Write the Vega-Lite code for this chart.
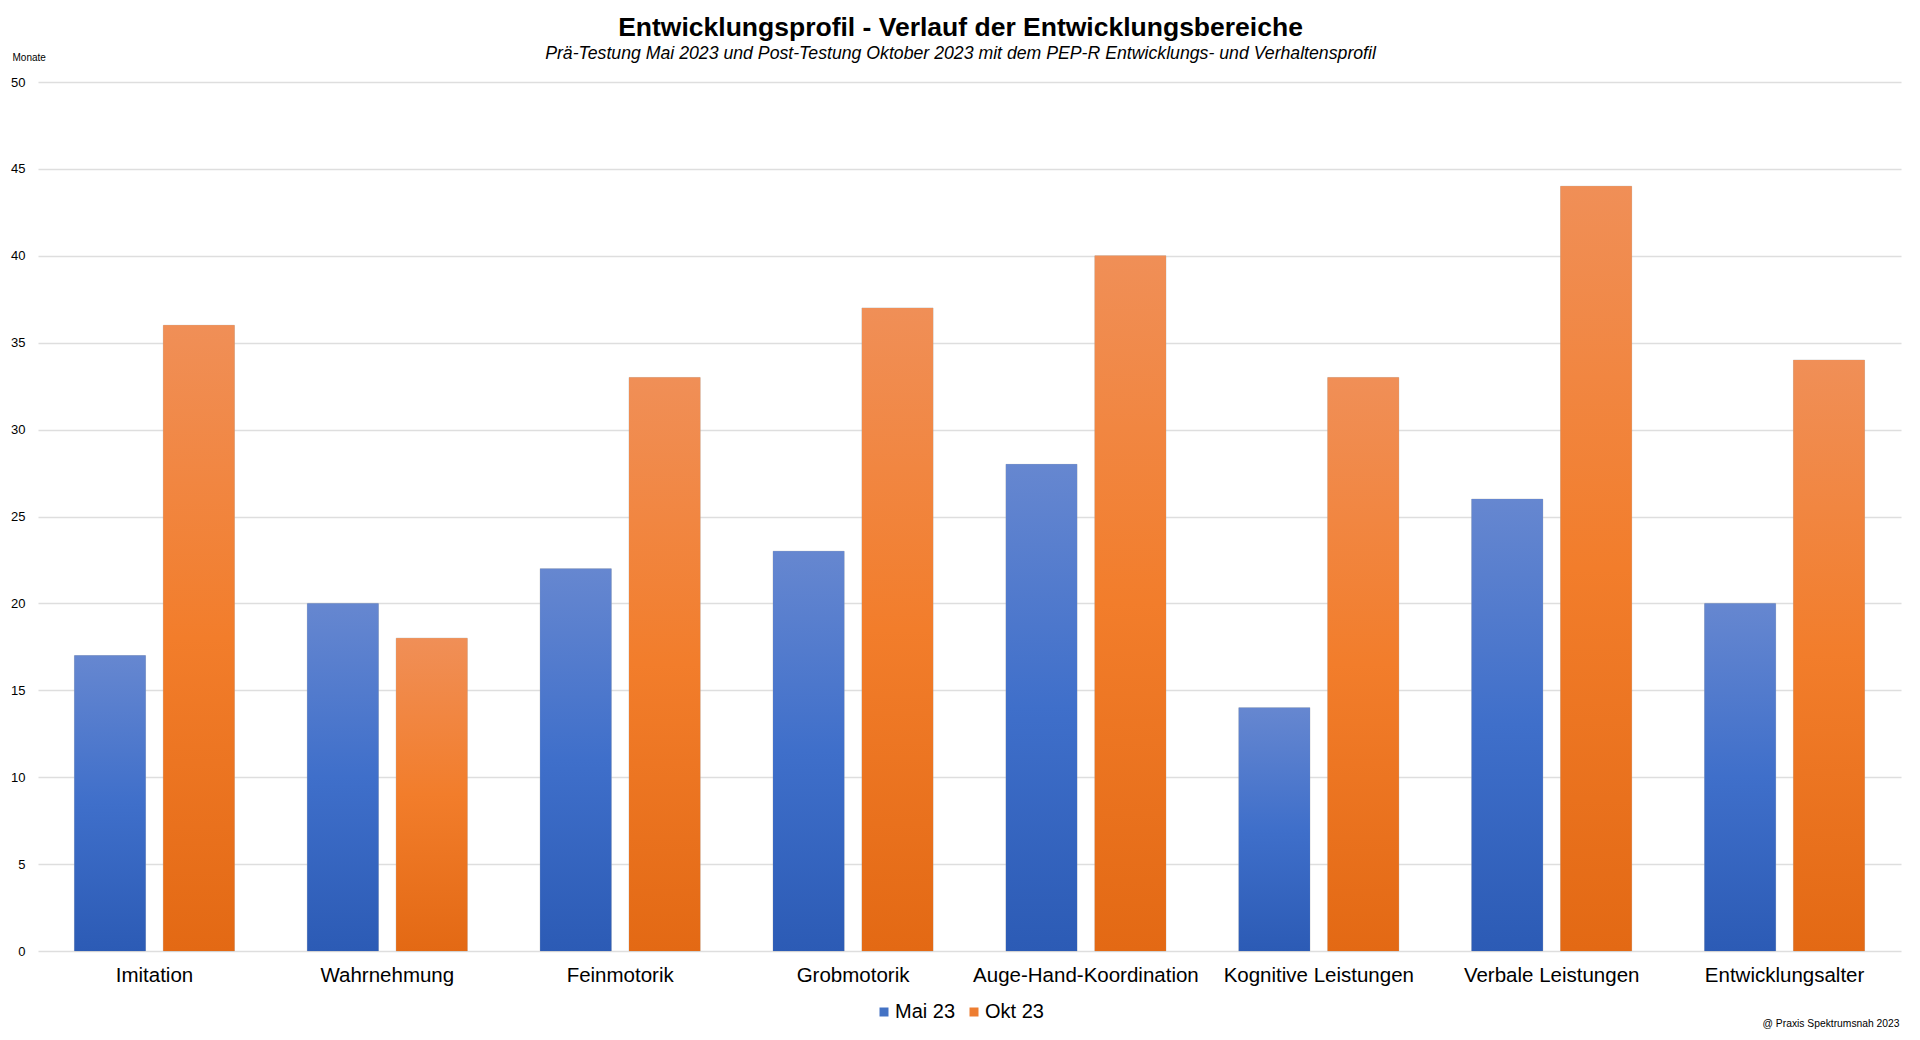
{
  "$schema": "https://vega.github.io/schema/vega-lite/v6.json",
  "width": 1863,
  "height": 869,
  "autosize": "none",
  "padding": {"left": 38, "top": 82, "right": 19, "bottom": 89},
  "background": "white",
  "config": {"font": "Liberation Sans", "view": {"stroke": null}},
  "title": {
    "text": "Entwicklungsprofil - Verlauf der Entwicklungsbereiche",
    "subtitle": "Prä-Testung Mai 2023 und Post-Testung Oktober 2023 mit dem PEP-R Entwicklungs- und Verhaltensprofil",
    "fontSize": 26.5,
    "fontWeight": "bold",
    "color": "#000000",
    "subtitleFontSize": 17.7,
    "subtitleFontStyle": "italic",
    "subtitleColor": "#000000",
    "anchor": "middle",
    "frame": "group",
    "dx": -9,
    "offset": -11,
    "subtitlePadding": 4
  },
  "data": {
    "values": [
      {"Bereich": "Imitation", "Testung": "Mai 23", "Monate": 17},
      {"Bereich": "Imitation", "Testung": "Okt 23", "Monate": 36},
      {"Bereich": "Wahrnehmung", "Testung": "Mai 23", "Monate": 20},
      {"Bereich": "Wahrnehmung", "Testung": "Okt 23", "Monate": 18},
      {"Bereich": "Feinmotorik", "Testung": "Mai 23", "Monate": 22},
      {"Bereich": "Feinmotorik", "Testung": "Okt 23", "Monate": 33},
      {"Bereich": "Grobmotorik", "Testung": "Mai 23", "Monate": 23},
      {"Bereich": "Grobmotorik", "Testung": "Okt 23", "Monate": 37},
      {"Bereich": "Auge-Hand-Koordination", "Testung": "Mai 23", "Monate": 28},
      {"Bereich": "Auge-Hand-Koordination", "Testung": "Okt 23", "Monate": 40},
      {"Bereich": "Kognitive Leistungen", "Testung": "Mai 23", "Monate": 14},
      {"Bereich": "Kognitive Leistungen", "Testung": "Okt 23", "Monate": 33},
      {"Bereich": "Verbale Leistungen", "Testung": "Mai 23", "Monate": 26},
      {"Bereich": "Verbale Leistungen", "Testung": "Okt 23", "Monate": 44},
      {"Bereich": "Entwicklungsalter", "Testung": "Mai 23", "Monate": 20},
      {"Bereich": "Entwicklungsalter", "Testung": "Okt 23", "Monate": 34}
    ]
  },
  "encoding": {
    "x": {
      "field": "Bereich",
      "type": "nominal",
      "sort": null,
      "scale": {"paddingInner": 0.313, "paddingOuter": 0.1565},
      "axis": {
        "title": "@ Praxis Spektrumsnah 2023",
        "titleFontSize": 10.3,
        "titleFontWeight": "normal",
        "titleColor": "#000000",
        "titleX": 1861,
        "titleY": 72,
        "titleAlign": "right",
        "titleBaseline": "middle",
        "labelAngle": 0,
        "labelFontSize": 20.5,
        "labelLimit": 0,
        "labelColor": "#000000",
        "labelPadding": 14,
        "ticks": false,
        "domain": false
      }
    },
    "xOffset": {
      "field": "Testung",
      "type": "nominal",
      "sort": ["Mai 23", "Okt 23"],
      "scale": {"paddingInner": 0.2, "paddingOuter": 0}
    },
    "y": {
      "field": "Monate",
      "type": "quantitative",
      "scale": {"domain": [0, 50]},
      "axis": {
        "values": [0, 5, 10, 15, 20, 25, 30, 35, 40, 45, 50],
        "title": "Monate",
        "titleAngle": 0,
        "titleX": -26,
        "titleY": -25,
        "titleAlign": "left",
        "titleBaseline": "middle",
        "titleFontSize": 10,
        "titleFontWeight": "normal",
        "titleColor": "#000000",
        "labelFontSize": 13,
        "labelColor": "#000000",
        "labelPadding": 13,
        "ticks": false,
        "domain": false,
        "gridColor": "#dedede",
        "gridWidth": 1.5
      }
    }
  },
  "layer": [
    {
      "mark": {"type": "bar", "stroke": "#b0b0b0", "strokeWidth": 1, "strokeOpacity": 0.5},
      "encoding": {
        "color": {
          "field": "Testung",
          "type": "nominal",
          "scale": {"domain": ["Mai 23", "Okt 23"], "range": ["#4472C4", "#ED7D31"]},
          "legend": {
            "orient": "none",
            "legendX": 836,
            "legendY": 920,
            "direction": "horizontal",
            "title": null,
            "symbolType": "square",
            "symbolSize": 81,
            "symbolStrokeWidth": 0,
            "labelFontSize": 20,
            "labelColor": "#000000",
            "labelOffset": 1,
            "columnPadding": 8
          }
        }
      }
    },
    {
      "transform": [{"filter": "datum.Testung === 'Mai 23'"}],
      "mark": {
        "type": "bar",
        "color": {"gradient": "linear", "x1": 0, "y1": 0, "x2": 0, "y2": 1, "stops": [{"offset": 0, "color": "#6687D0"}, {"offset": 0.5, "color": "#3F6FCA"}, {"offset": 1, "color": "#2C5BB5"}]}
      }
    },
    {
      "transform": [{"filter": "datum.Testung === 'Okt 23'"}],
      "mark": {
        "type": "bar",
        "color": {"gradient": "linear", "x1": 0, "y1": 0, "x2": 0, "y2": 1, "stops": [{"offset": 0, "color": "#F08F57"}, {"offset": 0.5, "color": "#F27D2B"}, {"offset": 1, "color": "#E36914"}]}
      }
    }
  ]
}
